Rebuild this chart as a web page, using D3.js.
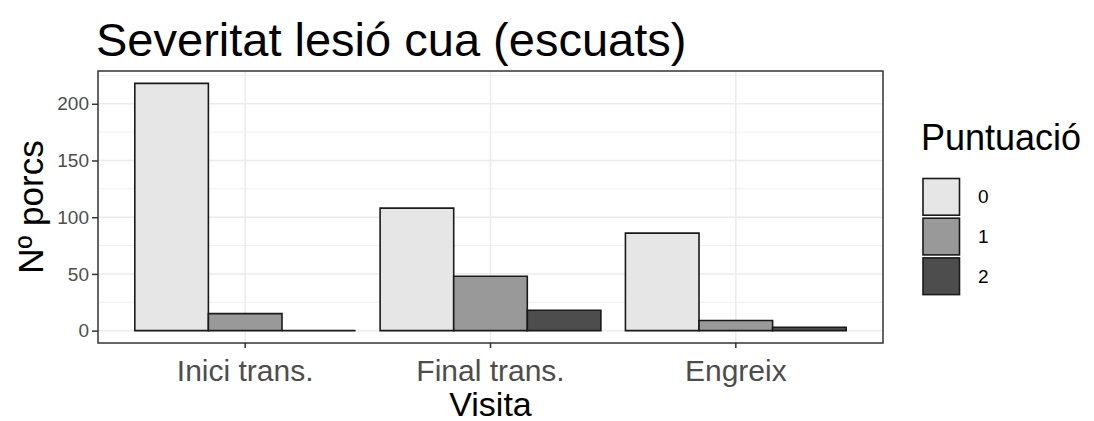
<!DOCTYPE html>
<html>
<head>
<meta charset="utf-8">
<script src="https://cdn.jsdelivr.net/npm/d3@7"></script>
<style>
  body { margin: 0; background: #fff; }
  svg { font-family: "Liberation Sans", Arial, sans-serif; display: block; }
</style>
</head>
<body>
<div id="chart"></div>
<script>
// Data
const visites = ['Inici trans.', 'Final trans.', 'Engreix']
const puntuacions = ['0', '1', '2']
const valors0 = [218, 108, 86]
const valors1 = [15, 48, 9]
const valors2 = [0, 18, 3]
const yTicks = [0, 50, 100, 150, 200]
const yMinor = [25, 75, 125, 175, 225]
const colors = ['#e6e6e6', '#999999', '#4d4d4d']

const width = 1094
const height = 421
const panel = {left: 98, right: 883, top: 71, bottom: 343}

const series = [valors0, valors1, valors2]
const data = []
visites.forEach((v, i) => puntuacions.forEach((p, j) => data.push({visita: v, punt: p, j, value: series[j][i]})))

const svg = d3.select('#chart').append('svg')
    .attr('width', width)
    .attr('height', height)

// discrete scale, 0.6 of a step on each side like ggplot
const x = d3.scaleBand()
    .domain(visites)
    .range([panel.left, panel.right])
    .paddingInner(0.1)
    .paddingOuter(0.15)
const center = v => x(v) + x.bandwidth() / 2
const barW = x.bandwidth() / 3

const maxV = d3.max(series.flat())
const y = d3.scaleLinear()
    .domain([-maxV * 0.05, maxV * 1.05])
    .range([panel.bottom, panel.top])

// grid
const grid = svg.append('g')
grid.selectAll('line.minor')
    .data(yMinor.filter(d => y(d) > panel.top))
    .enter().append('line')
    .attr('x1', panel.left).attr('x2', panel.right)
    .attr('y1', d => y(d)).attr('y2', d => y(d))
    .style('stroke', '#ebebeb').style('stroke-width', 0.8)
grid.selectAll('line.major')
    .data(yTicks)
    .enter().append('line')
    .attr('x1', panel.left).attr('x2', panel.right)
    .attr('y1', d => y(d)).attr('y2', d => y(d))
    .style('stroke', '#ebebeb').style('stroke-width', 1.5)
grid.selectAll('line.vert')
    .data(visites)
    .enter().append('line')
    .attr('x1', d => center(d)).attr('x2', d => center(d))
    .attr('y1', panel.top).attr('y2', panel.bottom)
    .style('stroke', '#ebebeb').style('stroke-width', 1.5)

// bars as closed paths so a zero bar still shows its outline
svg.selectAll('path.bar')
    .data(data)
    .enter().append('path')
    .attr('class', 'bar')
    .attr('d', d => {
        const x0 = x(d.visita) + d.j * barW
        const x1 = x0 + barW
        const y0 = y(0)
        const y1 = y(d.value)
        return `M${x0},${y0}L${x0},${y1}L${x1},${y1}L${x1},${y0}Z`
    })
    .style('fill', d => colors[d.j])
    .style('stroke', '#1a1a1a')
    .style('stroke-width', 1.6)

// panel border
svg.append('rect')
    .attr('x', panel.left).attr('y', panel.top)
    .attr('width', panel.right - panel.left)
    .attr('height', panel.bottom - panel.top)
    .style('fill', 'none')
    .style('stroke', '#333333')
    .style('stroke-width', 1.5)

// axes
const yAxis = svg.append('g')
    .attr('transform', `translate(${panel.left},0)`)
    .call(d3.axisLeft(y).tickValues(yTicks).tickSize(6).tickPadding(3))
yAxis.select('.domain').remove()
yAxis.selectAll('line').style('stroke', '#333333').style('stroke-width', 1.5)
yAxis.selectAll('text').style('font-size', '19px').style('fill', '#4d4d4d')
    .attr('font-family', null)

const xAxis = svg.append('g')
    .attr('transform', `translate(0,${panel.bottom})`)
    .call(d3.axisBottom(x).tickSize(5).tickPadding(5))
xAxis.select('.domain').remove()
xAxis.selectAll('line').style('stroke', '#333333').style('stroke-width', 1.5)
xAxis.selectAll('text')
    .attr('dy', null).attr('y', 38)
    .style('font-size', '30px').style('fill', '#4d4d4d')
    .attr('font-family', null)

// titles
svg.append('text')
    .attr('x', 96).attr('y', 56)
    .style('font-size', '47px')
    .style('fill', '#000')
    .text('Severitat lesió cua (escuats)')

svg.append('text')
    .attr('x', (panel.left + panel.right) / 2).attr('y', 416)
    .attr('text-anchor', 'middle')
    .style('font-size', '34px')
    .text('Visita')

svg.append('text')
    .attr('transform', `translate(43,${(panel.top + panel.bottom) / 2}) rotate(-90)`)
    .attr('text-anchor', 'middle')
    .style('font-size', '35px')
    .text('Nº porcs')

// legend
const legend = svg.append('g').attr('transform', 'translate(921,0)')
legend.append('text')
    .attr('x', 0).attr('y', 150)
    .style('font-size', '36px')
    .text('Puntuació')
const keyH = 39.7
legend.selectAll('rect.key')
    .data(puntuacions)
    .enter().append('rect')
    .attr('x', 2).attr('y', (d, i) => 178.5 + i * keyH)
    .attr('width', 36.5).attr('height', keyH - 3)
    .style('fill', (d, i) => colors[i])
    .style('stroke', '#1a1a1a')
    .style('stroke-width', 1.6)
legend.selectAll('text.lab')
    .data(puntuacions)
    .enter().append('text')
    .attr('x', 57).attr('y', (d, i) => 178.5 + i * keyH + keyH / 2 + 5)
    .style('font-size', '19px')
    .text(d => d)
</script>
</body>
</html>
